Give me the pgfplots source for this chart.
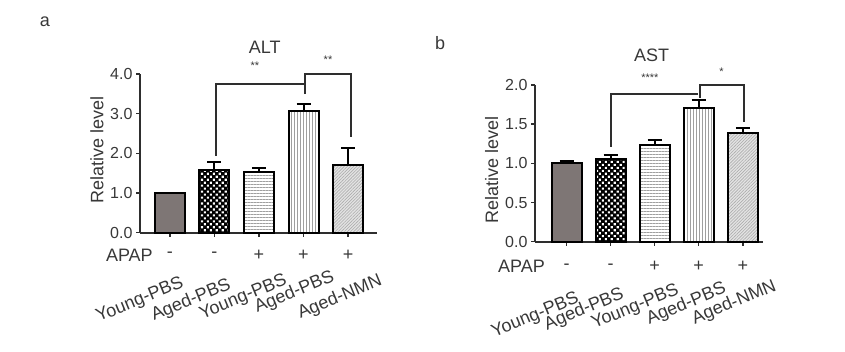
\documentclass[border=0pt]{standalone}
\usepackage{fontspec}
\setmainfont{Liberation Sans}
\usepackage{pgfplots}
\pgfplotsset{compat=1.18}
\usetikzlibrary{patterns.meta}
\definecolor{txt}{HTML}{383838}
\definecolor{ax}{HTML}{2E2E2E}
\definecolor{darkbar}{HTML}{7E7675}
\newcommand{\lbl}{\fontsize{18}{18}\selectfont}
\newcommand{\tck}{\fontsize{16}{16}\selectfont}
\tikzset{rl/.style={font=\lbl, text=txt, rotate=22.5, anchor=north east, inner sep=0pt}}
\pgfplotsset{
  mybars/.style={
    scale only axis, axis lines=left,
    axis line style={line width=1.8pt, ax, -},
    ymin=0, clip=false,
    xtick={0,1,2,3,4}, xticklabels={},
    tick style={line width=1.5pt, ax}, major tick length=4pt, tick align=outside,
    /pgf/number format/assume math mode=true,
    y tick label style={/pgf/number format/.cd, fixed, fixed zerofill, precision=1, /tikz/.cd, font=\tck, text=txt},
  },
  bar/.style={ybar, bar width=30pt, bar shift=0pt, draw=black, line width=2pt,
    error bars/y dir=plus, error bars/y explicit,
    error bars/error bar style={line width=2pt, black},
    error bars/error mark options={rotate=90, mark size=7pt, line width=2pt, black}},
  b1/.style={bar, fill=darkbar},
  b2/.style={bar, fill=black, postaction={pattern={Dots[angle=45, distance=4.2pt, radius=1.5pt]}, pattern color=white}},
  b3/.style={bar, fill=white, postaction={pattern={Lines[angle=0, distance=3pt, line width=0.9pt]}, pattern color=gray!75}},
  b4/.style={bar, fill=white, postaction={pattern={Lines[angle=90, distance=3pt, line width=0.9pt]}, pattern color=gray!75}},
  b5/.style={bar, fill=gray!22, postaction={pattern={Lines[angle=45, distance=2.2pt, line width=0.6pt]}, pattern color=gray!65}},
  brk/.style={ax, line width=1.8pt, mark=none, sharp plot},
}
\begin{document}
\begin{tikzpicture}
\useasboundingbox (0,0) rectangle (845pt,352pt);
\node[font=\lbl, text=txt] at (45pt,330pt) {a};
\node[font=\lbl, text=txt] at (440pt,309pt) {b};
\node[rotate=90, font=\lbl, text=txt] at (97pt,202pt) {Relative level};
\node[rotate=90, font=\lbl, text=txt] at (491.7pt,182pt) {Relative level};

% Panel a: ALT
\begin{axis}[mybars, at={(140pt,119.3pt)}, anchor=south west,
  width=237pt, height=158.7pt, xmin=-0.67, xmax=4.65, ymax=4,
  ytick={0,1,2,3,4}]
\addplot[b1] coordinates {(0,1.00) +- (0,0.01)};
\addplot[b2] coordinates {(1,1.58) +- (0,0.19)};
\addplot[b3] coordinates {(2,1.53) +- (0,0.11)};
\addplot[b4] coordinates {(3,3.06) +- (0,0.19)};
\addplot[b5] coordinates {(4,1.71) +- (0,0.43)};
\addplot[brk] coordinates {(1.03,1.94) (1.03,3.75) (3,3.75)};
\addplot[brk] coordinates {(3.03,3.49) (3.03,4.0) (4.06,4.0) (4.06,2.42)};
\node[font=\fontsize{11}{11}\selectfont, text=txt] at (axis cs:1.91,4.2) {**};
\node[font=\fontsize{11}{11}\selectfont, text=txt] at (axis cs:3.55,4.35) {**};
\node[font=\lbl, text=txt] at (axis cs:2.13,4.68) {ALT};
\node[font=\lbl, text=txt, anchor=east, inner sep=0pt] at (axis cs:-0.38,-0.56) {APAP};
\node[font=\lbl, text=txt] at (axis cs:0,-0.56) {-};
\node[font=\lbl, text=txt] at (axis cs:1,-0.56) {-};
\node[font=\lbl, text=txt] at (axis cs:2,-0.56) {+};
\node[font=\lbl, text=txt] at (axis cs:3,-0.56) {+};
\node[font=\lbl, text=txt] at (axis cs:4,-0.56) {+};
\node[rl] at (axis cs:0.22,-1.06) {Young-PBS};
\node[rl] at (axis cs:1.28,-1.1) {Aged-PBS};
\node[rl] at (axis cs:2.54,-0.99) {Young-PBS};
\node[rl] at (axis cs:3.6,-0.9) {Aged-PBS};
\node[rl] at (axis cs:4.67,-1.0) {Aged-NMN};
\end{axis}

% Panel b: AST
\begin{axis}[mybars, at={(535pt,110.3pt)}, anchor=south west,
  width=228pt, height=156.7pt, xmin=-0.72, xmax=4.46, ymax=2,
  ytick={0,0.5,1,1.5,2}]
\addplot[b1] coordinates {(0,1.00) +- (0,0.03)};
\addplot[b2] coordinates {(1,1.06) +- (0,0.05)};
\addplot[b3] coordinates {(2,1.24) +- (0,0.06)};
\addplot[b4] coordinates {(3,1.70) +- (0,0.11)};
\addplot[b5] coordinates {(4,1.39) +- (0,0.06)};
\addplot[brk] coordinates {(1,1.21) (1,1.886) (2.98,1.886)};
\addplot[brk] coordinates {(3.02,1.84) (3.02,2.0) (4.03,2.0) (4.03,1.53)};
\node[font=\fontsize{11}{11}\selectfont, text=txt] at (axis cs:1.89,2.09) {****};
\node[font=\fontsize{11}{11}\selectfont, text=txt] at (axis cs:3.52,2.17) {*};
\node[font=\lbl, text=txt] at (axis cs:1.93,2.38) {AST};
\node[font=\lbl, text=txt, anchor=east, inner sep=0pt] at (axis cs:-0.49,-0.32) {APAP};
\node[font=\lbl, text=txt] at (axis cs:0,-0.32) {-};
\node[font=\lbl, text=txt] at (axis cs:1,-0.32) {-};
\node[font=\lbl, text=txt] at (axis cs:2,-0.32) {+};
\node[font=\lbl, text=txt] at (axis cs:3,-0.32) {+};
\node[font=\lbl, text=txt] at (axis cs:4,-0.32) {+};
\node[rl] at (axis cs:0.19,-0.62) {Young-PBS};
\node[rl] at (axis cs:1.21,-0.56) {Aged-PBS};
\node[rl] at (axis cs:2.46,-0.51) {Young-PBS};
\node[rl] at (axis cs:3.53,-0.49) {Aged-PBS};
\node[rl] at (axis cs:4.67,-0.46) {Aged-NMN};
\end{axis}
\end{tikzpicture}
\end{document}
